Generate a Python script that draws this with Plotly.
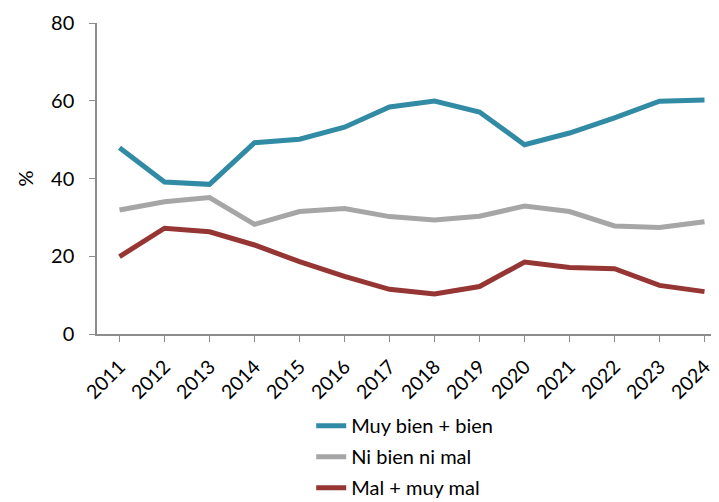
import plotly.graph_objects as go

years = [2011, 2012, 2013, 2014, 2015, 2016, 2017, 2018, 2019, 2020, 2021, 2022, 2023, 2024]
year_labels = [str(y) for y in years]
muy_bien_bien = [47.9, 39.1, 38.5, 49.2, 50.1, 53.2, 58.4, 59.9, 57.1, 48.7, 51.7, 55.6, 59.9, 60.2]
ni_bien_ni_mal = [31.9, 34.0, 35.1, 28.2, 31.5, 32.3, 30.2, 29.3, 30.3, 32.9, 31.5, 27.8, 27.4, 28.9]
mal_muy_mal = [19.9, 27.2, 26.3, 22.9, 18.6, 14.8, 11.5, 10.3, 12.2, 18.5, 17.1, 16.8, 12.5, 10.9]
y_ticks = [0, 20, 40, 60, 80]

series = [
    ("Muy bien + bien", muy_bien_bien, "#318BA5"),
    ("Ni bien ni mal", ni_bien_ni_mal, "#A6A6A6"),
    ("Mal + muy mal", mal_muy_mal, "#963634"),
]

fig = go.Figure()
for i, (name, vals, color) in enumerate(series):
    fig.add_trace(go.Scatter(x=years, y=vals, name=name, mode="lines",
                             legendgroup=f"g{i}",
                             line=dict(color=color, width=5)))

font = "Lato, 'Open Sans', Arial, sans-serif"
fig.update_layout(
    width=719, height=502,
    margin=dict(l=89, r=0, t=15, b=176, autoexpand=False),
    plot_bgcolor="white", paper_bgcolor="white",
    font=dict(family=font, color="black", size=19),
    showlegend=True,
    legend=dict(x=0.34, y=-0.232, xanchor="left", yanchor="top",
                font=dict(size=20, family=font), tracegroupgap=2,
                traceorder="grouped",
                itemwidth=30, bgcolor="rgba(0,0,0,0)"),
    xaxis=dict(range=[2010.5, 2024.5], tickvals=years, ticktext=year_labels,
               tickangle=-45, showgrid=False, zeroline=False, automargin=False,
               showline=True, linecolor="#8C8C8C", linewidth=1.5,
               ticks="outside", ticklen=6, tickcolor="#8C8C8C",
               ticklabelstandoff=6,
               tickfont=dict(size=19.5)),
    yaxis=dict(range=[0, 80], tickvals=y_ticks, showgrid=False, zeroline=False,
               automargin=False,
               showline=True, linecolor="#8C8C8C", linewidth=1.5,
               ticks="outside", ticklen=6, tickcolor="#8C8C8C",
               ticklabelstandoff=11,
               tickfont=dict(size=20),
               title=dict(text="%", font=dict(size=20), standoff=12)),
)

fig.write_html("out.html")
